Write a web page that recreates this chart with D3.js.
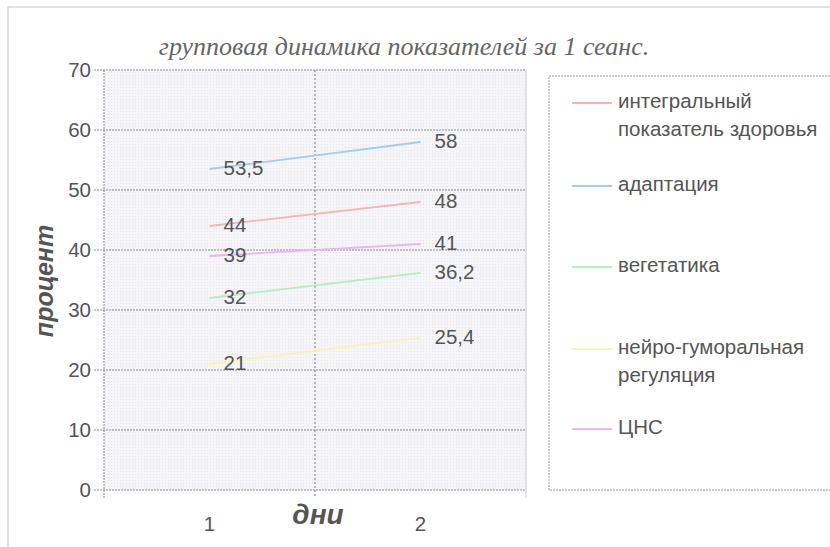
<!DOCTYPE html>
<html><head><meta charset="utf-8">
<script src="https://cdn.jsdelivr.net/npm/d3@7"></script>
<style>body{margin:0;background:#fff}svg{display:block}</style>
</head><body>
<svg id="c" width="830" height="547"></svg>
<script>
const categories = ["1", "2"];
const seriesNames = ["интегральный показатель здоровья", "адаптация", "вегетатика", "нейро-гуморальная регуляция", "ЦНС"];
const integral = [44, 48];
const adaptation = [53.5, 58];
const vegetatika = [32, 36.2];
const neuro = [21, 25.4];
const cns = [39, 41];
const yTicks = [0, 10, 20, 30, 40, 50, 60, 70];
const labels1 = ["44", "53,5", "32", "21", "39"];
const labels2 = ["48", "58", "36,2", "25,4", "41"];
const legendLines = [["интегральный", "показатель здоровья"], ["адаптация"], ["вегетатика"], ["нейро-гуморальная", "регуляция"], ["ЦНС"]];
const colors = ["#f7b4b4", "#a4ccee", "#b4eebe", "#f8f4b4", "#ecb4ee"];

const series = [integral, adaptation, vegetatika, neuro, cns];
const svg = d3.select("#c");
const font = "'Liberation Sans', Arial, sans-serif";

// outer frame
svg.append("rect").attr("x", 8).attr("y", 7).attr("width", 830).attr("height", 560)
  .attr("fill", "none").attr("stroke", "#c4c4c4").attr("stroke-width", 1);

const L = 104, R = 526, T = 70, B = 490;
const x = d3.scaleBand().domain(categories).range([L, R]);
const y = d3.scaleLinear().domain([0, 70]).range([B, T]);

// pattern background
const defs = svg.append("defs");
const pat = defs.append("pattern").attr("id", "dots").attr("width", 3).attr("height", 3).attr("patternUnits", "userSpaceOnUse");
pat.append("rect").attr("width", 3).attr("height", 3).attr("fill", "#f5f5f8");
pat.append("rect").attr("width", 1).attr("height", 1).attr("fill", "#e6e6ee");
svg.append("rect").attr("x", L).attr("y", T).attr("width", R - L).attr("height", B - T).attr("fill", "url(#dots)");

// gridlines
svg.append("g").selectAll("line").data(yTicks).join("line")
  .attr("x1", L - 10).attr("x2", R).attr("y1", d => y(d)).attr("y2", d => y(d))
  .attr("stroke", "#8a8a94").attr("stroke-width", 1).attr("stroke-dasharray", "2,1");
// vertical mid line
svg.append("line").attr("x1", L + (R - L) / 2).attr("x2", L + (R - L) / 2).attr("y1", T).attr("y2", B + 8)
  .attr("stroke", "#777").attr("stroke-dasharray", "2,2");
svg.append("line").attr("x1", L).attr("x2", L).attr("y1", T).attr("y2", B + 8)
  .attr("stroke", "#888").attr("stroke-dasharray", "2,1");
svg.append("line").attr("x1", R).attr("x2", R).attr("y1", T).attr("y2", B + 8)
  .attr("stroke", "#ccc");

// y axis labels
const yAxis = d3.axisLeft(y).tickValues(yTicks).tickSize(0).tickPadding(13);
const gy = svg.append("g").attr("transform", `translate(${L},0)`).call(yAxis);
gy.select(".domain").remove();
gy.selectAll("text").attr("font-family", font).attr("font-size", 20.5).attr("fill", "#555");

// x axis labels
const xAxis = d3.axisBottom(x).tickSize(0).tickPadding(26);
const gx = svg.append("g").attr("transform", `translate(0,${B})`).call(xAxis);
gx.select(".domain").remove();
gx.selectAll("text").attr("font-family", font).attr("font-size", 20.5).attr("fill", "#555");

// lines
const line = d3.line().x((d, i) => x(categories[i]) + x.bandwidth() / 2).y(d => y(d));
svg.append("g").selectAll("path").data(series).join("path")
  .attr("d", d => line(d)).attr("fill", "none")
  .attr("stroke", (d, i) => colors[i]).attr("stroke-width", 1.8);

// data labels
series.forEach((s, i) => {
  const lab = [labels1[i], labels2[i]];
  s.forEach((v, j) => {
    svg.append("text").attr("x", x(categories[j]) + x.bandwidth() / 2 + 14).attr("y", y(v) + 1)
      .attr("dominant-baseline", "middle").attr("font-family", font).attr("font-size", 20.5)
      .attr("fill", "#555").text(lab[j]);
  });
});

// title
svg.append("text").attr("x", 404).attr("y", 55).attr("text-anchor", "middle")
  .attr("font-family", "'Liberation Serif', 'DejaVu Serif', serif").attr("font-style", "italic")
  .attr("font-size", 26).attr("fill", "#666").text("групповая динамика показателей за 1 сеанс.");

// axis titles
svg.append("text").attr("transform", "translate(53,281) rotate(-90)").attr("text-anchor", "middle")
  .attr("font-family", font).attr("font-weight", "bold").attr("font-style", "italic")
  .attr("font-size", 25).attr("fill", "#555").text("процент");
svg.append("text").attr("x", 318).attr("y", 524).attr("text-anchor", "middle")
  .attr("font-family", font).attr("font-weight", "bold").attr("font-style", "italic")
  .attr("font-size", 28).attr("fill", "#555").text("дни");

// legend
svg.append("rect").attr("x", 549).attr("y", 76).attr("width", 300).attr("height", 414)
  .attr("fill", "#fff").attr("stroke", "#999").attr("stroke-dasharray", "2,1");
const legY = [103, 186, 267, 349, 429];
seriesNames.forEach((n, i) => {
  const g = svg.append("g");
  g.append("line").attr("x1", 572).attr("x2", 612).attr("y1", legY[i]).attr("y2", legY[i])
    .attr("stroke", colors[i]).attr("stroke-width", 1.8);
  legendLines[i].forEach((t, k) => {
    g.append("text").attr("x", 618).attr("y", legY[i] + k * 28).attr("dominant-baseline", "middle")
      .attr("font-family", font).attr("font-size", 20.5).attr("fill", "#555").text(t);
  });
});
</script>
</body></html>
